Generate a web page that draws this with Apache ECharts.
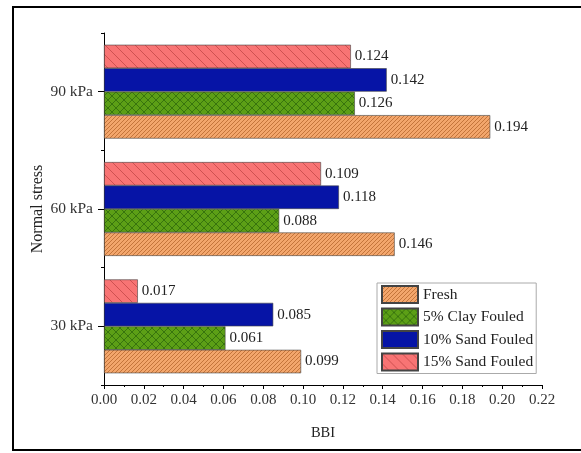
<!DOCTYPE html>
<html>
<head>
<meta charset="utf-8">
<script src="https://cdn.jsdelivr.net/npm/echarts@6/dist/echarts.min.js"></script>
<style>html,body{margin:0;padding:0;background:#fff}#c{width:581px;height:453px}</style>
</head>
<body>
<div id="c"></div>
<script>
const categories = ['30 kPa', '60 kPa', '90 kPa'];
const seriesNames = ['Fresh', '5% Clay Fouled', '10% Sand Fouled', '15% Sand Fouled'];
const fresh = [0.099, 0.146, 0.194];
const clay5 = [0.061, 0.088, 0.126];
const sand10 = [0.085, 0.118, 0.142];
const sand15 = [0.017, 0.109, 0.124];
const xTicks = { min: 0, max: 0.22, interval: 0.02 };

function hatch(bg, fg, size, dirs, lw) {
  const c = document.createElement('canvas');
  c.width = size; c.height = size;
  const g = c.getContext('2d');
  g.fillStyle = bg; g.fillRect(0, 0, size, size);
  g.strokeStyle = fg; g.lineWidth = lw;
  dirs.forEach(d => {
    g.beginPath();
    if (d === '/') {
      g.moveTo(-1, size + 1); g.lineTo(size + 1, -1);
      g.moveTo(-1, 1); g.lineTo(1, -1);
      g.moveTo(size - 1, size + 1); g.lineTo(size + 1, size - 1);
    } else {
      g.moveTo(-1, -1); g.lineTo(size + 1, size + 1);
      g.moveTo(size - 1, -1); g.lineTo(size + 1, 1);
      g.moveTo(-1, size - 1); g.lineTo(1, size + 1);
    }
    g.stroke();
  });
  return { image: c, repeat: 'repeat' };
}

const fills = [
  hatch('#f3a66c', '#b8682e', 4, ['/'], 0.8),
  hatch('#5c9f16', '#2f6a0c', 8, ['/', '\\'], 0.8),
  '#0614a6',
  hatch('#f87474', '#c44848', 10, ['\\'], 0.8)
];
const dataSets = [fresh, clay5, sand10, sand15];
const FONT = 'Liberation Serif';

// ECharts places the first bar series at the top of a horizontal group,
// so series are added in reverse to keep Fresh at the bottom.
const series = seriesNames.map((n, i) => ({
  name: n,
  type: 'bar',
  yAxisIndex: 0,
  data: dataSets[i],
  barGap: '0%',
  barCategoryGap: '20%',
  itemStyle: { color: fills[i], borderColor: '#444', borderWidth: 0.6 },
  label: {
    show: true, position: 'right', distance: 4,
    fontFamily: FONT, fontSize: 15, color: '#222',
    formatter: p => p.value.toFixed(3)
  }
})).reverse();

const chart = echarts.init(document.getElementById('c'), null, { renderer: 'canvas' });
chart.setOption({
  animation: false,
  backgroundColor: '#fff',
  textStyle: { fontFamily: FONT },
  grid: { left: 104, right: 39, top: 33, bottom: 68, containLabel: false },
  legend: {
    orient: 'vertical',
    left: 377, top: 283,
    padding: [2, 3, 2, 4],
    itemWidth: 36, itemHeight: 17, itemGap: 3.5,
    borderColor: '#aaa', borderWidth: 1,
    icon: 'rect',
    textStyle: { fontFamily: FONT, fontSize: 15.5, color: '#222' },
    data: seriesNames
  },
  xAxis: {
    type: 'value',
    min: xTicks.min, max: xTicks.max, interval: xTicks.interval,
    name: 'BBI', nameLocation: 'middle', nameGap: 41, nameMoveOverlap: false,
    nameTextStyle: { fontFamily: FONT, fontSize: 14.5, color: '#222' },
    axisLine: { show: true, lineStyle: { color: '#000', width: 1 } },
    axisTick: { show: true, length: 4, lineStyle: { color: '#000' } },
    minorTick: { show: true, splitNumber: 2, length: 2, lineStyle: { color: '#000' } },
    splitLine: { show: false },
    axisLabel: { fontFamily: FONT, fontSize: 15, color: '#333', margin: 8, formatter: v => v.toFixed(2) }
  },
  yAxis: [{
    type: 'category',
    data: categories,
    name: 'Normal stress', nameLocation: 'middle', nameGap: 58, nameRotate: 90, nameMoveOverlap: false,
    nameTextStyle: { fontFamily: FONT, fontSize: 16, color: '#222' },
    axisLine: { show: true, lineStyle: { color: '#000', width: 1 } },
    axisTick: { show: true, alignWithLabel: true, length: 6, lineStyle: { color: '#000' } },
    axisLabel: { fontFamily: FONT, fontSize: 15.5, color: '#333', margin: 11 },
    splitLine: { show: false }
  }, {
    type: 'category',
    data: categories,
    position: 'left',
    axisLine: { show: false },
    axisTick: { show: true, alignWithLabel: false, length: 3, lineStyle: { color: '#000' } },
    axisLabel: { show: false },
    splitLine: { show: false }
  }],
  series: series,
  graphic: [{
    type: 'rect',
    shape: { x: 13, y: 7, width: 620, height: 443 },
    style: { fill: null, stroke: '#000', lineWidth: 2 },
    silent: true
  }]
});
</script>
</body>
</html>
